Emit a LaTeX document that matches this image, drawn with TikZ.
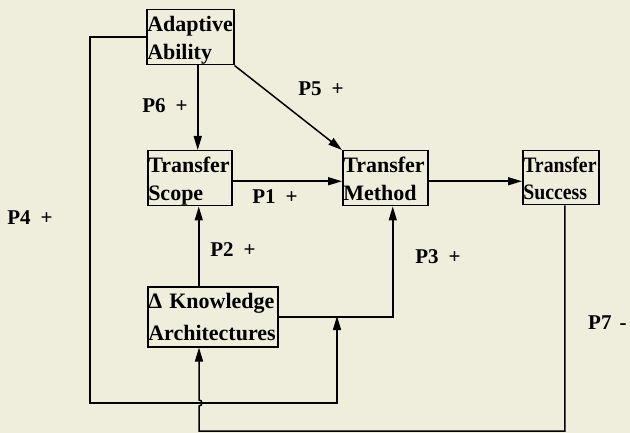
\documentclass[tikz,border=0pt]{standalone}
\usepackage{fontspec}
\setmainfont{Liberation Serif}
\usetikzlibrary{arrows.meta}
\definecolor{bg}{RGB}{239,238,221}
\begin{document}
\begin{tikzpicture}[x=1pt,y=-1pt,
  box/.style={draw, line width=1.5pt, inner xsep=0.5pt, inner ysep=0pt, align=left, anchor=north west,
    font=\fontsize{22}{28}\selectfont\bfseries,
    execute at begin node={\rule{0pt}{22pt}},
    execute at end node={\rule[-5pt]{0pt}{5pt}}},
  lbl/.style={font=\fontsize{21}{24}\selectfont\bfseries, inner sep=0pt},
  arr/.style={line width=1.5pt, -{Triangle[length=14pt,width=8pt]}}]
\fill[bg] (0,0) rectangle (630,433);
\useasboundingbox (0,0) rectangle (630,433);

\node[box, text width=86pt] (ada) at (146,9) {Adaptive\\Ability};
\node[box, text width=83pt] (scope) at (147,150) {Transfer\\Scope};
\node[box, text width=84pt] (meth) at (342,150) {Transfer\\Method};
\node[box, text width=75pt, font=\fontsize{22}{27}\selectfont\bfseries\addfontfeatures{FakeStretch=0.9}] (succ) at (522,150) {Transfer\\Success};
\node[box, text width=129pt, font=\fontsize{22}{32}\selectfont\bfseries,
  execute at end node={\rule[-6pt]{0pt}{6pt}}] (know) at (147,286) {Δ Knowledge\\Architectures};

\node[lbl] (l6) at (165,106) {P6\hspace{10pt}+};
\node[lbl] (l5) at (321,89) {P5\hspace{10pt}+};
\node[lbl] (l1) at (275,197) {P1\hspace{10pt}+};
\node[lbl] (l2) at (233,250) {P2\hspace{10pt}+};
\node[lbl] (l3) at (438,257) {P3\hspace{10pt}+};
\node[lbl] (l4) at (30,218) {P4\hspace{10pt}+};
\node[lbl, anchor=west] (l7) at (588,323) {P7\hspace{8pt}-};

\coordinate (p4end) at (337,316);
\coordinate (lft) at (90,403);
\coordinate (bot) at (199,431);

% P6
\draw[arr] ([xshift=7.5pt]ada.south) -- ([xshift=7.5pt]ada.south |- scope.north);
% P5
\draw[arr] (ada.south east) -- (meth.north west);
% P1
\draw[arr] ([yshift=-3pt]scope.east) -- ([yshift=-3pt]scope.east -| meth.west);
% Method -> Success
\draw[arr] ([yshift=-3pt]meth.east) -- ([yshift=-3pt]meth.east -| succ.west);
% P2
\draw[arr] ([xshift=-14pt]know.north) -- ([xshift=-14pt]know.north |- scope.south);
% P3
\draw[arr] (know.east) -| ([xshift=7.5pt]meth.south);
% P4
\draw[arr] (ada.west) -| (lft) -| (p4end);
% P7
\draw[arr] ([xshift=4pt]succ.south) |- (bot) -- (199,406) arc[start angle=-90, end angle=90, radius=3pt] -- (know.south -| bot);
\end{tikzpicture}
\end{document}
